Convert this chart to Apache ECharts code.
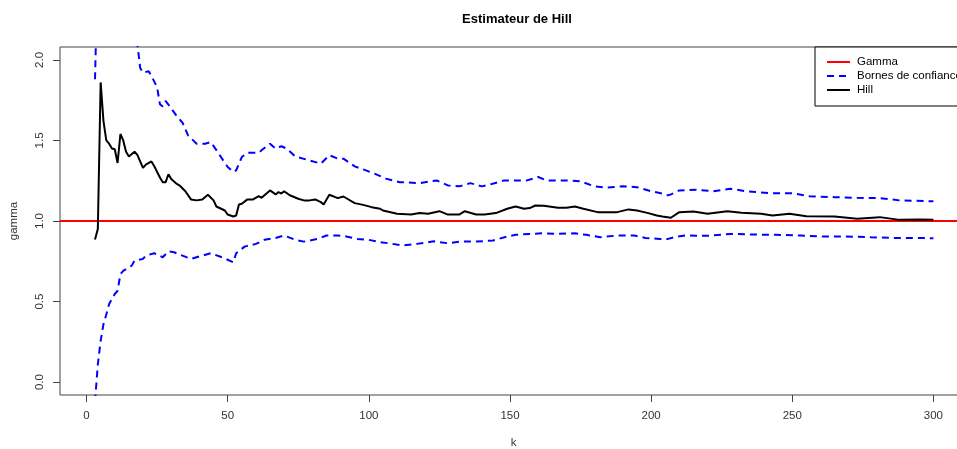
<!DOCTYPE html>
<html>
<head>
<meta charset="utf-8">
<script src="https://cdn.jsdelivr.net/npm/echarts@6/dist/echarts.min.js"></script>
<style>
  html, body { margin: 0; padding: 0; background: #fff; }
  #hill-chart { width: 957px; height: 449px; }
</style>
</head>
<body>
<div id="hill-chart"></div>
<script>
// values (k, estimate)
const hillK = [3,4,5,6,7,8,9,10,11,12,13,14,15,17,18,20,21,23,24,26,27,28,29,30,32,33,35,37,39,41,43,45,46,49,50,52,53,54,55,57,59,61,62,65,67,68,69,70,72,75,77,79,81,83,84,86,89,91,95,98,101,104,105,110,115,118,121,125,128,132,134,138,141,145,149,152,155,157,159,162,167,170,173,176,181,188,192,195,199,202,204,207,210,215,220,227,232,239,243,249,255,265,273,281,288,295,300];
const hillV = [0.885,0.95,1.86,1.62,1.50,1.48,1.45,1.445,1.36,1.54,1.50,1.43,1.40,1.43,1.41,1.33,1.35,1.37,1.34,1.27,1.24,1.24,1.29,1.26,1.23,1.22,1.185,1.134,1.128,1.134,1.163,1.128,1.09,1.065,1.04,1.028,1.034,1.103,1.107,1.134,1.134,1.154,1.144,1.19,1.165,1.18,1.17,1.185,1.16,1.138,1.128,1.128,1.134,1.117,1.103,1.163,1.142,1.152,1.111,1.10,1.086,1.076,1.065,1.045,1.04,1.049,1.045,1.061,1.04,1.04,1.061,1.04,1.04,1.049,1.076,1.09,1.076,1.08,1.096,1.095,1.082,1.082,1.09,1.076,1.055,1.055,1.072,1.065,1.049,1.034,1.028,1.02,1.055,1.059,1.045,1.061,1.051,1.045,1.034,1.045,1.03,1.028,1.014,1.024,1.007,1.009,1.007];

const upperK = [3,4,5,6,7,8,9,10,11,12,13,14,15,16,17,18,19,20,22,23,25,26,27,28,30,32,34,36,39,42,44,46,48,50,52,53,55,57,61,62,65,67,69,71,74,79,83,86,89,91,95,99,102,106,111,118,124,128,132,136,140,143,148,156,160,163,170,175,180,184,190,195,200,204,206,207,210,216,222,228,234,242,250,256,265,273,281,288,298,300];
const upperV = [1.88,2.6,3.49,2.88,2.61,2.51,2.41,2.34,2.16,2.41,2.3,2.2,2.15,2.15,2.18,2.10,1.95,1.92,1.93,1.90,1.83,1.725,1.71,1.745,1.70,1.65,1.61,1.53,1.48,1.48,1.49,1.44,1.387,1.335,1.304,1.314,1.397,1.424,1.424,1.439,1.48,1.449,1.464,1.449,1.40,1.376,1.356,1.408,1.387,1.387,1.339,1.314,1.294,1.263,1.241,1.235,1.252,1.221,1.215,1.235,1.215,1.227,1.252,1.252,1.273,1.252,1.252,1.246,1.215,1.207,1.215,1.21,1.185,1.17,1.159,1.165,1.19,1.194,1.185,1.20,1.184,1.173,1.173,1.154,1.148,1.144,1.142,1.128,1.123,1.123];

const lowerK = [3,4,5,6,7,8,10,11,12,13,16,17,20,21,24,27,29,31,34,37,41,44,48,52,53,56,60,63,67,70,74,77,82,85,89,92,96,100,104,107,112,117,123,128,132,138,144,149,152,157,162,167,173,177,182,188,194,198,203,206,208,212,220,228,236,244,253,261,269,278,286,293,300];
const lowerV = [-0.12,0.11,0.256,0.36,0.42,0.485,0.547,0.567,0.67,0.69,0.723,0.754,0.765,0.785,0.80,0.775,0.812,0.806,0.785,0.765,0.785,0.80,0.775,0.744,0.80,0.841,0.858,0.883,0.895,0.91,0.883,0.872,0.889,0.91,0.91,0.904,0.889,0.883,0.868,0.862,0.848,0.858,0.874,0.862,0.872,0.872,0.879,0.904,0.914,0.92,0.924,0.92,0.924,0.914,0.899,0.91,0.91,0.895,0.889,0.889,0.899,0.91,0.908,0.92,0.916,0.914,0.91,0.904,0.904,0.899,0.895,0.895,0.893];

const gamma = 1;
const xTicks = [0, 50, 100, 150, 200, 250, 300];
const yTicks = [0, 0.5, 1, 1.5, 2];

// R-style axis extension, right side runs off the picture like in the original
const xMin = -9.4, xMax = 311.9;
const yMin = -0.08, yMax = 2.08;

const pairs = (ks, vs) => ks.map((k, i) => [k, vs[i]]);

const chart = echarts.init(document.getElementById("hill-chart"));
const font = "Liberation Sans, Arial, sans-serif";

const option = {
  animation: false,
  backgroundColor: "#fff",
  textStyle: { fontFamily: font },
  title: {
    text: "Estimateur de Hill",
    left: 512,
    top: 8,
    textAlign: "center",
    textStyle: { fontSize: 13, fontWeight: "bold", color: "#000", fontFamily: font },
  },
  legend: {
    orient: "vertical",
    left: 815,
    top: 47,
    padding: [9, 30, 10, 11],
    itemGap: 2,
    itemWidth: 23,
    itemHeight: 12,
    borderColor: "#000",
    borderWidth: 1,
    backgroundColor: "#fff",
    itemStyle: { opacity: 0 },
    textStyle: { fontSize: 11.5, color: "#000", fontFamily: font, padding: [0, 0, 0, 2] },
    data: ["Gamma", "Bornes de confiance", "Hill"],
  },
  grid: {
    left: 60,
    top: 47,
    width: 907,
    height: 348,
    outerBoundsMode: "none",
    containLabel: false,
    show: true,
    borderColor: "#444",
    borderWidth: 1,
    backgroundColor: "transparent",
  },
  xAxis: {
    type: "value",
    min: xMin,
    max: xMax,
    name: "k",
    nameLocation: "middle",
    nameGap: 42,
    nameTextStyle: { fontSize: 11.5, color: "#333" },
    axisLine: { show: false, onZero: false },
    splitLine: { show: false },
    axisTick: { show: true, length: 7, lineStyle: { color: "#444" }, customValues: xTicks },
    axisLabel: { fontSize: 11.5, color: "#333", margin: 15, customValues: xTicks },
  },
  yAxis: {
    type: "value",
    min: yMin,
    max: yMax,
    name: "gamma",
    nameLocation: "middle",
    nameRotate: 90,
    nameGap: 40,
    nameTextStyle: { fontSize: 11.5, color: "#333" },
    axisLine: { show: false, onZero: false },
    splitLine: { show: false },
    axisTick: { show: true, length: 7, lineStyle: { color: "#444" }, customValues: yTicks },
    axisLabel: {
      fontSize: 11.5,
      color: "#333",
      rotate: 90,
      margin: 14,
      customValues: yTicks,
      formatter: (v) => v.toFixed(1),
    },
  },
  series: [
    {
      name: "Gamma",
      type: "line",
      symbol: "none",
      data: [[xMin, gamma], [xMax, gamma]],
      lineStyle: { color: "#ff0000", width: 2 },
      itemStyle: { color: "#ff0000" },
      z: 3,
    },
    {
      name: "Bornes de confiance",
      type: "line",
      symbol: "none",
      data: pairs(upperK, upperV),
      lineStyle: { color: "#0000ff", width: 2, type: [7, 5] },
      itemStyle: { color: "#0000ff" },
    },
    {
      name: "Bornes de confiance",
      type: "line",
      symbol: "none",
      data: pairs(lowerK, lowerV),
      lineStyle: { color: "#0000ff", width: 2, type: [7, 5] },
      itemStyle: { color: "#0000ff" },
    },
    {
      name: "Hill",
      type: "line",
      symbol: "none",
      data: pairs(hillK, hillV),
      lineStyle: { color: "#000", width: 2 },
      itemStyle: { color: "#000" },
      z: 4,
    },
  ],
};

chart.setOption(option);
</script>
</body>
</html>
